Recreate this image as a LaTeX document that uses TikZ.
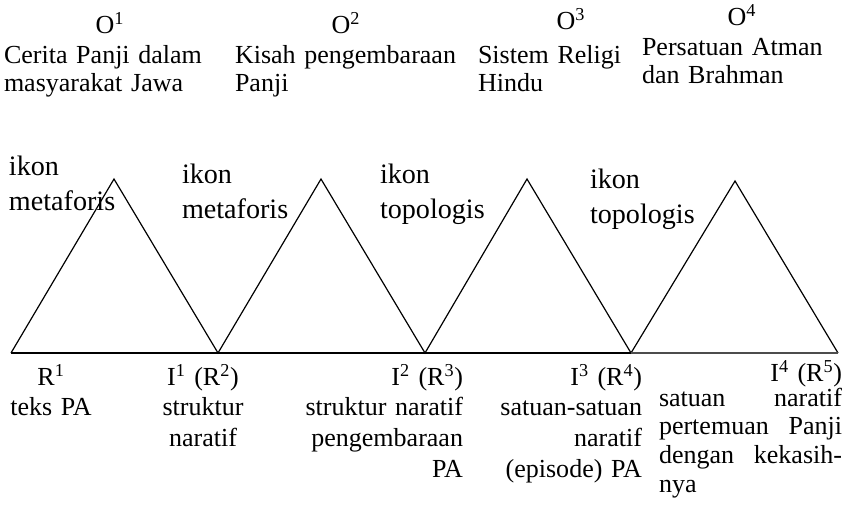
\documentclass[tikz,border=0pt]{standalone}
\usepackage{fontspec}
\setmainfont{Liberation Serif}
\begin{document}
\begin{tikzpicture}
  [x=0.025cm,y=-0.025cm,
   every node/.style={inner sep=0pt,outer sep=0pt},
   olabel/.style={font=\fontsize{18.5}{21}\selectfont,anchor=base},
   objtext/.style={font=\fontsize{18.5}{20.6}\selectfont,text width=7cm,align=left,anchor=base west},
   ikontext/.style={font=\fontsize{20}{24.9}\selectfont,text width=3.5cm,align=left,anchor=base west},
   midtext/.style={font=\fontsize{18.5}{22}\selectfont,text width=4.5cm,align=center,anchor=base},
   righttext/.style={font=\fontsize{18.5}{22}\selectfont,text width=4.5cm,align=right,anchor=base east},
   sideline/.style={line width=0.85pt,line join=miter},
   baseline/.style={line width=2pt}]
  \useasboundingbox (0,0) rectangle (848,514);

  % corners of the triangles
  \coordinate (b0) at (11,353);
  \coordinate (b1) at (218,353);
  \coordinate (b2) at (425,353);
  \coordinate (b3) at (631,353);
  \coordinate (b4) at (838,353);
  \coordinate (t1) at (114,179);
  \coordinate (t2) at (321,179);
  \coordinate (t3) at (527,179);
  \coordinate (t4) at (735,181);

  \draw[sideline] (b0) -- (t1) -- (b1) -- (t2) -- (b2) -- (t3) -- (b3) -- (t4) -- (b4);
  \draw[baseline] (b0) -- (b3);
  \draw[baseline,line width=1.7pt,black!70] (b3) -- (b4);

  % objects
  \node[olabel] (o1) at (110,33) {O\textsuperscript{1}};
  \node[olabel] (o2) at (346,33) {O\textsuperscript{2}};
  \node[olabel] (o3) at (571,29) {O\textsuperscript{3}};
  \node[olabel] (o4) at (742,25) {O\textsuperscript{4}};
  \node[objtext] (cerita) at (4,63) {Cerita Panji dalam\\masyarakat Jawa};
  \node[objtext] (kisah) at (235,63) {Kisah pengembaraan\\Panji};
  \node[objtext] (sistem) at (478,63) {Sistem Religi\\Hindu};
  \node[objtext] (persatuan) at (642,55) {Persatuan Atman\\dan Brahman};

  % icons
  \node[ikontext] (ikon1) at (9,175) {ikon\\metaforis};
  \node[ikontext] (ikon2) at (182,183) {ikon\\metaforis};
  \node[ikontext] (ikon3) at (380,183) {ikon\\topologis};
  \node[ikontext] (ikon4) at (590,188) {ikon\\topologis};

  % representamen and interpretant
  \node[midtext,text width=3cm] (r1) at (51,385) {R\textsuperscript{1}\\teks PA};
  \node[midtext,text width=3cm] (i1) at (203,385)
    {I\textsuperscript{1} (R\textsuperscript{2})\\struktur\\naratif};
  \node[righttext] (i2) at (463,385)
    {I\textsuperscript{2} (R\textsuperscript{3})\\struktur naratif\\pengembaraan\\PA};
  \node[righttext] (i3) at (642,385)
    {I\textsuperscript{3} (R\textsuperscript{4})\\satuan-satuan\\naratif\\(episode) PA};
  \node[righttext] (i4) at (842,381) {I\textsuperscript{4} (R\textsuperscript{5})};
  \node[font=\fontsize{18.5}{20.6}\selectfont,text width=4.575cm,align=left,anchor=base west]
    (satuan) at (659,406)
    {\makebox[4.575cm][s]{satuan\hfill naratif}\\
     \makebox[4.575cm][s]{pertemuan\hfill Panji}\\
     \makebox[4.575cm][s]{dengan\hfill kekasih-}\\
     nya};
\end{tikzpicture}
\end{document}
